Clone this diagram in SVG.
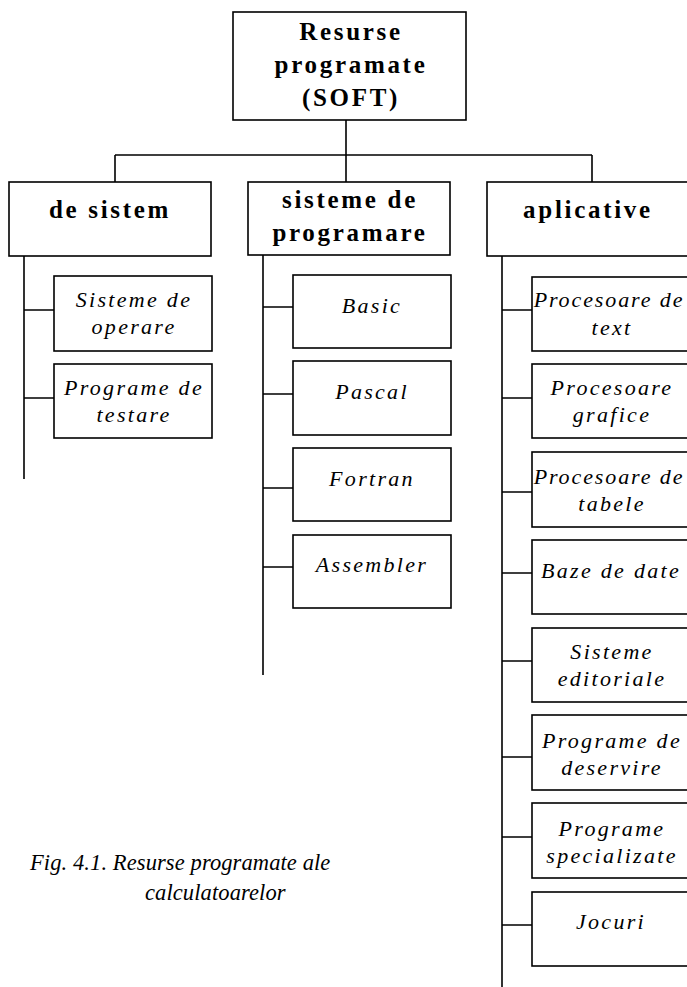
<svg xmlns="http://www.w3.org/2000/svg" width="687" height="987" viewBox="0 0 687 987">
<style>
.box{fill:#fff;stroke:#000;stroke-width:1.6}
.ln{stroke:#000;stroke-width:1.6;fill:none}
.b{font-family:"Liberation Serif",serif;font-weight:bold;font-size:25px;letter-spacing:2.7px;text-anchor:middle;fill:#000}
.i{font-family:"Liberation Serif",serif;font-style:italic;font-size:22px;letter-spacing:2.3px;text-anchor:middle;fill:#000}
.t{letter-spacing:1.9px}
.cap{font-family:"Liberation Serif",serif;font-style:italic;font-size:22.5px;letter-spacing:0.1px;fill:#000}
</style>
<rect width="687" height="987" fill="#fff"/>
<g id="connectors">
<path class="ln" d="M346,120V182M115,155H592M115,155V182M592,155V182"/>
<path class="ln" d="M24,256V479M24,310H54M24,398H54"/>
<path class="ln" d="M263,255V675M263,307H293M263,394H293M263,488H293M263,567H293"/>
<path class="ln" d="M502,256V987M502,310H532M502,398H532M502,492H532M502,573H532M502,661H532M502,757H532M502,837H532M502,925H532"/>
</g>
<g id="root"><rect class="box" x="233" y="12" width="233" height="108"/>
<text class="b" x="351" y="40">Resurse</text><text class="b" x="351" y="73">programate</text><text class="b" x="351" y="106">(SOFT)</text></g>
<g id="de-sistem"><rect class="box" x="9" y="182" width="202" height="74"/><text class="b" x="110" y="218">de sistem</text></g>
<g id="sisteme-de-programare"><rect class="box" x="248" y="182" width="202" height="73"/><text class="b" x="350" y="208">sisteme de</text><text class="b" x="350" y="241">programare</text></g>
<g id="aplicative"><rect class="box" x="487" y="182" width="202" height="74"/><text class="b" x="588" y="218">aplicative</text></g>
<g id="sisteme-de-operare"><rect class="box" x="54" y="276" width="158" height="75"/><text class="i" x="134" y="307">Sisteme de</text><text class="i" x="134" y="334">operare</text></g>
<g id="programe-de-testare"><rect class="box" x="54" y="364" width="158" height="74"/><text class="i" x="134" y="395">Programe de</text><text class="i" x="134" y="422">testare</text></g>
<g id="basic"><rect class="box" x="293" y="275" width="158" height="73"/><text class="i" x="372" y="312.5">Basic</text></g>
<g id="pascal"><rect class="box" x="293" y="361" width="158" height="74"/><text class="i" x="372" y="399">Pascal</text></g>
<g id="fortran"><rect class="box" x="293" y="448" width="158" height="73"/><text class="i" x="372" y="486">Fortran</text></g>
<g id="assembler"><rect class="box" x="293" y="535" width="158" height="73"/><text class="i" x="372" y="572">Assembler</text></g>
<g id="procesoare-de-text"><rect class="box" x="532" y="277" width="158" height="74"/><text class="i t" x="609" y="307">Procesoare de</text><text class="i" x="612" y="335">text</text></g>
<g id="procesoare-grafice"><rect class="box" x="532" y="364" width="158" height="74"/><text class="i" x="612" y="395">Procesoare</text><text class="i" x="612" y="422">grafice</text></g>
<g id="procesoare-de-tabele"><rect class="box" x="532" y="452" width="158" height="75"/><text class="i t" x="609" y="484">Procesoare de</text><text class="i" x="612" y="511">tabele</text></g>
<g id="baze-de-date"><rect class="box" x="532" y="540" width="158" height="74"/><text class="i" x="611" y="578">Baze de date</text></g>
<g id="sisteme-editoriale"><rect class="box" x="532" y="628" width="158" height="74"/><text class="i" x="612" y="659">Sisteme</text><text class="i" x="612" y="686">editoriale</text></g>
<g id="programe-de-deservire"><rect class="box" x="532" y="715" width="158" height="75"/><text class="i" x="612" y="748">Programe de</text><text class="i" x="612" y="775">deservire</text></g>
<g id="programe-specializate"><rect class="box" x="532" y="803" width="158" height="75"/><text class="i" x="612" y="836">Programe</text><text class="i" x="612" y="863">specializate</text></g>
<g id="jocuri"><rect class="box" x="532" y="892" width="158" height="74"/><text class="i" x="611" y="929">Jocuri</text></g>
<g id="caption"><text class="cap" x="30" y="870">Fig. 4.1. Resurse programate ale</text><text class="cap" x="145" y="900">calculatoarelor</text></g>
</svg>
